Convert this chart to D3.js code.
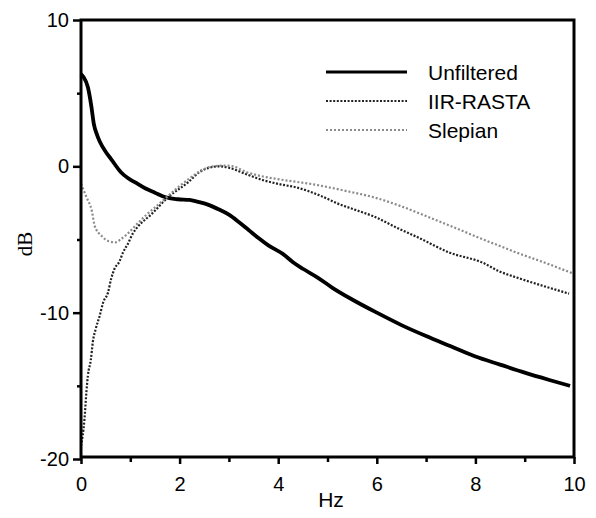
<!DOCTYPE html>
<html>
<head>
<meta charset="utf-8">
<script src="https://cdn.jsdelivr.net/npm/d3@7"></script>
<style>
  body { margin: 0; background: #fff; }
  text { font-family: "Liberation Sans", Arial, Helvetica, sans-serif; }
</style>
</head>
<body>
<script>
// values (Hz, dB)
const unfilteredX = [0, 0.05, 0.14, 0.21, 0.26, 0.32, 0.38, 0.5, 0.61, 0.81, 0.95, 1.1, 1.3, 1.5, 1.7, 1.97, 2.2, 2.4, 2.6, 2.8, 3.0, 3.2, 3.4, 3.6, 3.8, 4.1, 4.3, 4.5, 4.8, 5.1, 5.5, 6.0, 6.5, 7.0, 7.5, 8.0, 8.5, 9.0, 9.5, 9.92];
const unfilteredY = [6.3, 6.1, 5.4, 4.1, 2.9, 2.2, 1.7, 1.0, 0.5, -0.4, -0.8, -1.1, -1.5, -1.8, -2.1, -2.25, -2.3, -2.45, -2.65, -2.95, -3.3, -3.8, -4.35, -4.9, -5.4, -6.0, -6.55, -7.0, -7.6, -8.3, -9.1, -10.0, -10.85, -11.6, -12.3, -13.0, -13.55, -14.1, -14.6, -15.0];

const iirX = [0, 0.07, 0.11, 0.14, 0.2, 0.24, 0.3, 0.38, 0.45, 0.55, 0.61, 0.68, 0.78, 0.85, 0.95, 1.05, 1.16, 1.42, 1.77, 2.17, 2.4, 2.6, 2.8, 3.0, 3.36, 3.7, 4.0, 4.38, 4.85, 5.25, 5.5, 5.92, 6.47, 6.8, 7.48, 8.16, 8.5, 8.84, 9.5, 9.9];
const iirY = [-19.1, -17.3, -15.4, -14.3, -13.2, -12.0, -11.1, -10.2, -9.3, -8.6, -7.7, -7.0, -6.5, -5.9, -5.3, -4.6, -4.1, -3.3, -2.1, -1.1, -0.4, -0.1, 0.0, -0.1, -0.55, -0.95, -1.2, -1.45, -2.0, -2.6, -2.9, -3.4, -4.3, -4.8, -5.9, -6.6, -7.2, -7.6, -8.3, -8.7];

const slepianX = [0, 0.11, 0.22, 0.28, 0.42, 0.55, 0.7, 0.8, 0.93, 1.13, 1.33, 1.54, 1.74, 2.0, 2.27, 2.48, 2.68, 2.9, 3.08, 3.36, 3.7, 4.04, 4.71, 5.4, 5.92, 6.47, 7.0, 7.48, 8.16, 8.5, 8.84, 9.5, 9.96];
const slepianY = [-1.2, -2.1, -3.05, -4.1, -4.76, -5.1, -5.2, -5.0, -4.65, -3.96, -3.3, -2.7, -2.1, -1.35, -0.66, -0.2, 0.0, 0.05, 0.0, -0.4, -0.7, -0.9, -1.23, -1.7, -2.1, -2.7, -3.4, -4.05, -5.0, -5.45, -5.9, -6.7, -7.3];

const seriesNames = ["Unfiltered", "IIR-RASTA", "Slepian"];
const xMajor = [0, 2, 4, 6, 8, 10];
const xMinor = [1, 3, 5, 7, 9];
const yMajor = [-20, -10, 0, 10];
const yMinor = [-15, -5, 5];

const width = 596, height = 518;
const margin = {top: 20, right: 22, bottom: 61, left: 81};

const svg = d3.select("body").append("svg")
    .attr("width", width)
    .attr("height", height);

const x = d3.scaleLinear().domain([0, 10]).range([margin.left, width - margin.right]);
const y = d3.scaleLinear().domain([-20, 10]).range([height - margin.bottom + 2, margin.top]);

const yBottom = height - margin.bottom;

// series styles
const styles = [
  {color: "#000", w: 3.8, dash: null},
  {color: "#222", w: 2.2, dash: "2,1.6"},
  {color: "#8a8a8a", w: 2.2, dash: "2,2"}
];

const series = [
  d3.zip(unfilteredX, unfilteredY),
  d3.zip(iirX, iirY),
  d3.zip(slepianX, slepianY)
];

const line = d3.line()
    .x(d => x(d[0]))
    .y(d => y(d[1]))
    .curve(d3.curveMonotoneX);

series.forEach((s, i) => {
  svg.append("path")
      .datum(s)
      .attr("fill", "none")
      .attr("stroke", styles[i].color)
      .attr("stroke-width", styles[i].w)
      .attr("stroke-dasharray", styles[i].dash)
      .attr("stroke-linejoin", "round")
      .attr("d", line);
});

// axes (plain hyphen for negatives, as in the original)
const fontSize = 20;
const fmt = d => String(d);
const gx = svg.append("g").attr("transform", `translate(0,${yBottom})`)
    .call(d3.axisBottom(x).tickValues(xMajor).tickSize(7).tickPadding(13).tickFormat(fmt));
const gxm = svg.append("g").attr("transform", `translate(0,${yBottom})`)
    .call(d3.axisBottom(x).tickValues(xMinor).tickSize(5).tickFormat(""));
const gy = svg.append("g").attr("transform", `translate(${margin.left},0)`)
    .call(d3.axisLeft(y).tickValues(yMajor).tickSize(8).tickPadding(4).tickFormat(fmt));
const gym = svg.append("g").attr("transform", `translate(${margin.left},0)`)
    .call(d3.axisLeft(y).tickValues(yMinor).tickSize(4).tickFormat(""));

[gx, gxm, gy, gym].forEach(g => {
  g.select(".domain").remove();
  g.selectAll(".tick line").attr("stroke", "#000").attr("stroke-width", 2.5);
  g.selectAll(".tick text").attr("fill", "#000").style("font-size", fontSize + "px")
      .style("font-family", "'Liberation Sans', Arial, sans-serif");
});

// frame
svg.append("rect")
    .attr("x", margin.left)
    .attr("y", margin.top)
    .attr("width", width - margin.right - margin.left)
    .attr("height", yBottom - margin.top)
    .attr("fill", "none")
    .attr("stroke", "#000")
    .attr("stroke-width", 3);

// axis titles
svg.append("text")
    .attr("x", 331).attr("y", 507)
    .attr("text-anchor", "middle")
    .style("font-size", "21px")
    .text("Hz");

svg.append("text")
    .attr("transform", "translate(32,244) rotate(-90)")
    .attr("text-anchor", "middle")
    .style("font-family", "'Liberation Serif', 'Times New Roman', serif")
    .style("font-size", "21px")
    .text("dB");

// legend
const legendY = [72, 101, 130];
const legend = svg.append("g");
seriesNames.forEach((name, i) => {
  legend.append("line")
      .attr("x1", 326).attr("x2", 407)
      .attr("y1", legendY[i]).attr("y2", legendY[i])
      .attr("stroke", styles[i].color)
      .attr("stroke-width", i === 0 ? 3 : 2.2)
      .attr("stroke-dasharray", styles[i].dash);
  legend.append("text")
      .attr("x", 428).attr("y", legendY[i])
      .attr("dy", "0.36em")
      .style("font-size", "21px")
      .text(name);
});
</script>
</body>
</html>
